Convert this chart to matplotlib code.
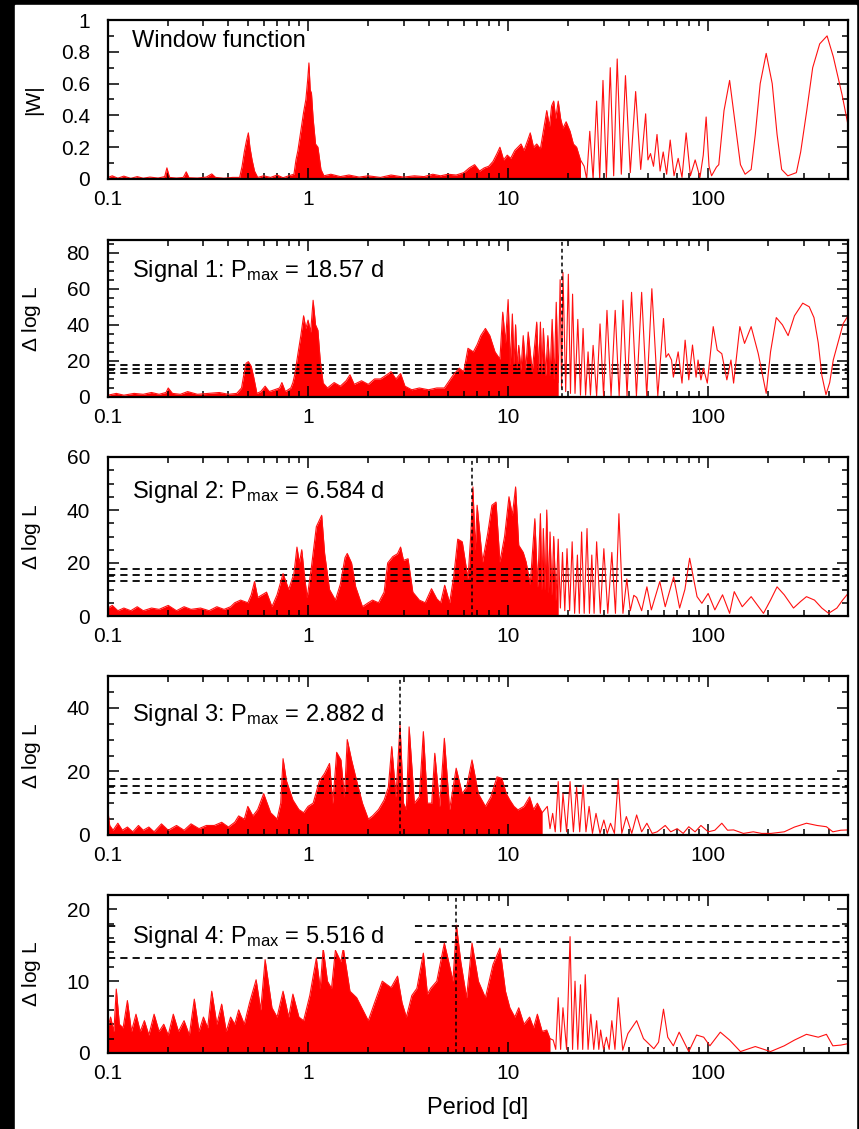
import matplotlib.pyplot as plt
import numpy as np
from matplotlib.ticker import LogLocator, NullFormatter, MultipleLocator, FormatStrFormatter
from matplotlib.transforms import blended_transform_factory

plt.rcParams['font.family'] = ['Liberation Sans', 'DejaVu Sans']
plt.rcParams['mathtext.default'] = 'regular'

# window function |W|
win_period = [0.100, 0.105, 0.112, 0.120, 0.130, 0.140, 0.150, 0.162, 0.178, 0.192,
              0.197, 0.203, 0.220, 0.238, 0.246, 0.254, 0.280, 0.310, 0.330, 0.345,
              0.380, 0.420, 0.455, 0.468, 0.480, 0.492, 0.503, 0.512, 0.525, 0.540,
              0.560, 0.600, 0.650, 0.700, 0.750, 0.800, 0.850, 0.870, 0.890, 0.920,
              0.950, 0.975, 0.995, 1.010, 1.025, 1.040, 1.060, 1.090, 1.120, 1.160,
              1.200, 1.300, 1.450, 1.600, 1.800, 2.000, 2.300, 2.600, 3.000, 3.400,
              3.800, 4.200, 4.600, 5.000, 5.500, 6.000, 6.400, 6.800, 7.200, 7.600,
              8.000, 8.400, 8.800, 9.100, 9.500, 9.900, 10.30, 10.80, 11.20, 11.60,
              12.00, 12.50, 12.90, 13.40, 13.90, 14.50, 15.00, 15.60, 16.10, 16.50,
              16.90, 17.30, 17.80, 18.30, 18.80, 19.50, 20.40, 21.20, 22.00, 23.00,
              24.00, 24.70, 25.60, 26.60, 27.70, 28.70, 29.80, 31.00, 32.40, 33.70,
              35.10, 36.80, 38.60, 40.80, 43.40, 46.00, 48.70, 50.00, 51.50, 53.30,
              55.50, 57.50, 59.60, 62.00, 64.60, 67.50, 70.80, 74.00, 77.60, 81.50,
              86.10, 91.00, 94.50, 97.70, 101.0, 104.0, 110.0, 113.0, 120.0, 128.0,
              136.0, 145.0, 153.0, 164.0, 172.0, 182.0, 195.0, 209.0, 221.0, 233.0,
              250.0, 276.0, 290.0, 311.0, 333.0, 361.0, 393.0, 422.0, 467.0, 500.0]
win_power = [0.010, 0.020, 0.005, 0.018, 0.004, 0.015, 0.005, 0.012, 0.006, 0.015,
             0.070, 0.010, 0.006, 0.010, 0.045, 0.008, 0.006, 0.012, 0.032, 0.010,
             0.005, 0.010, 0.010, 0.080, 0.170, 0.240, 0.290, 0.200, 0.120, 0.050,
             0.010, 0.020, 0.010, 0.025, 0.008, 0.020, 0.030, 0.120, 0.180, 0.300,
             0.420, 0.500, 0.620, 0.730, 0.560, 0.540, 0.380, 0.220, 0.200, 0.060,
             0.020, 0.030, 0.015, 0.025, 0.012, 0.020, 0.010, 0.025, 0.012, 0.020,
             0.015, 0.030, 0.020, 0.030, 0.025, 0.040, 0.070, 0.090, 0.050, 0.070,
             0.080, 0.110, 0.160, 0.200, 0.120, 0.150, 0.130, 0.180, 0.200, 0.220,
             0.180, 0.240, 0.290, 0.200, 0.220, 0.190, 0.300, 0.430, 0.330, 0.460,
             0.490, 0.380, 0.490, 0.380, 0.320, 0.360, 0.300, 0.220, 0.200, 0.120,
             0.080, 0.000, 0.300, 0.000, 0.490, 0.000, 0.620, 0.010, 0.700, 0.020,
             0.755, 0.030, 0.650, 0.040, 0.550, 0.060, 0.410, 0.120, 0.160, 0.080,
             0.280, 0.050, 0.170, 0.030, 0.245, 0.020, 0.130, 0.010, 0.290, 0.020,
             0.120, 0.010, 0.150, 0.390, 0.080, 0.020, 0.075, 0.090, 0.430, 0.620,
             0.360, 0.090, 0.030, 0.060, 0.280, 0.600, 0.790, 0.600, 0.280, 0.060,
             0.020, 0.040, 0.170, 0.430, 0.700, 0.850, 0.900, 0.770, 0.530, 0.340]

# signal 1 periodogram (delta log L)
s1_period = [0.100, 0.110, 0.120, 0.135, 0.150, 0.165, 0.180, 0.195, 0.200, 0.210,
             0.230, 0.250, 0.280, 0.320, 0.360, 0.400, 0.440, 0.465, 0.475, 0.490,
             0.503, 0.520, 0.535, 0.555, 0.580, 0.610, 0.640, 0.680, 0.720, 0.740,
             0.770, 0.820, 0.840, 0.860, 0.890, 0.920, 0.950, 0.975, 1.000, 1.030,
             1.060, 1.090, 1.120, 1.150, 1.190, 1.250, 1.350, 1.450, 1.550, 1.620,
             1.700, 1.850, 2.000, 2.150, 2.300, 2.450, 2.600, 2.750, 2.900, 3.050,
             3.300, 3.600, 4.000, 4.400, 4.800, 5.300, 5.700, 6.000, 6.300, 6.700,
             7.000, 7.300, 7.700, 8.100, 8.600, 9.100, 9.400, 9.700, 10.00, 10.25,
             10.50, 10.70, 10.90, 11.10, 11.30, 11.60, 11.90, 12.25, 12.60, 13.20,
             13.90, 14.20, 14.50, 14.75, 15.00, 15.40, 15.80, 16.20, 16.60, 17.00,
             17.40, 17.80, 18.20, 18.50, 18.80, 19.40, 20.00, 20.50, 21.00, 21.60,
             22.30, 23.00, 23.70, 24.40, 25.10, 25.80, 26.60, 27.70, 28.80, 30.00,
             31.20, 32.70, 34.30, 35.90, 37.50, 39.30, 41.40, 43.80, 46.50, 49.30,
             52.30, 56.00, 59.80, 61.50, 63.30, 65.60, 67.00, 70.80, 74.00, 76.70,
             80.00, 83.50, 87.00, 89.00, 92.00, 94.60, 99.00, 106.0, 111.0, 117.0,
             124.0, 130.0, 134.0, 144.0, 152.0, 164.0, 178.0, 195.0, 205.0, 219.0,
             235.0, 251.0, 270.0, 297.0, 320.0, 338.0, 355.0, 370.0, 388.0, 405.0,
             422.0, 445.0, 473.0, 500.0]
s1_dlogl = [1.0, 2.0, 1.0, 2.0, 1.5, 2.5, 1.5, 2.5, 5.0, 2.0,
            1.5, 3.0, 1.5, 2.0, 2.5, 1.5, 2.0, 5.0, 11.0, 18.7,
            19.6, 17.0, 11.0, 2.0, 3.0, 6.0, 3.0, 4.0, 5.0, 8.0,
            3.0, 5.0, 8.0, 13.0, 24.0, 34.0, 45.0, 38.0, 42.6, 36.0,
            53.6, 40.0, 37.0, 20.5, 7.7, 5.0, 8.0, 6.0, 9.0, 12.3,
            7.0, 9.0, 7.0, 10.0, 10.0, 12.0, 14.0, 10.0, 13.0, 6.0,
            4.0, 5.0, 4.0, 5.0, 5.0, 12.0, 16.0, 14.0, 27.0, 25.0,
            29.0, 34.0, 38.0, 34.0, 25.0, 21.0, 47.0, 30.0, 54.0, 18.0,
            46.0, 18.0, 40.0, 16.0, 28.6, 15.0, 34.0, 15.0, 36.0, 14.0,
            41.5, 14.0, 41.5, 13.0, 38.0, 12.0, 34.0, 12.0, 43.0, 10.0,
            52.5, 8.0, 65.0, 5.0, 69.0, 3.0, 68.0, 2.0, 57.0, 2.0,
            43.0, 1.0, 38.0, 1.0, 25.0, 1.0, 28.6, 0.5, 40.5, 0.5,
            48.0, 0.5, 48.0, 0.5, 53.6, 0.5, 58.0, 0.5, 58.0, 0.5,
            60.0, 0.5, 43.5, 22.0, 24.0, 20.5, 11.0, 25.0, 7.7, 31.5,
            9.5, 28.8, 11.0, 20.5, 9.5, 16.0, 7.7, 39.0, 26.0, 24.0,
            9.5, 20.5, 7.7, 39.0, 29.7, 39.0, 24.0, 2.0, 25.0, 44.0,
            40.0, 34.0, 45.0, 52.0, 50.0, 44.0, 30.0, 12.0, 1.3, 8.0,
            20.5, 30.0, 40.7, 45.0]

# signal 2 periodogram
s2_period = [0.100, 0.105, 0.112, 0.120, 0.130, 0.140, 0.150, 0.165, 0.180, 0.200,
             0.220, 0.240, 0.260, 0.290, 0.320, 0.350, 0.380, 0.410, 0.430, 0.460,
             0.500, 0.520, 0.540, 0.560, 0.590, 0.620, 0.660, 0.700, 0.750, 0.800,
             0.850, 0.880, 0.905, 0.930, 0.960, 0.990, 1.040, 1.100, 1.170, 1.210,
             1.280, 1.370, 1.450, 1.530, 1.570, 1.650, 1.730, 1.870, 2.000, 2.100,
             2.250, 2.400, 2.500, 2.650, 2.800, 2.900, 3.000, 3.160, 3.340, 3.600,
             3.850, 4.140, 4.400, 4.600, 4.820, 5.100, 5.350, 5.600, 5.900, 6.300,
             6.500, 6.670, 6.850, 7.000, 7.450, 7.900, 8.300, 8.700, 9.100, 9.600,
             10.10, 10.50, 10.90, 11.30, 11.90, 12.30, 12.90, 13.60, 14.05, 14.50,
             14.75, 15.00, 15.30, 15.60, 15.90, 16.20, 16.55, 16.90, 17.35, 17.80,
             18.25, 18.70, 19.20, 19.70, 20.30, 20.90, 21.50, 22.20, 22.70, 23.30,
             24.00, 24.80, 25.50, 26.20, 26.90, 27.70, 28.90, 30.10, 31.50, 33.00,
             34.40, 35.80, 37.50, 39.20, 40.80, 42.50, 43.90, 46.50, 49.40, 52.00,
             57.30, 61.00, 67.20, 72.00, 76.50, 80.80, 88.00, 93.00, 100.0, 108.0,
             118.0, 128.0, 135.0, 148.0, 164.0, 189.0, 205.0, 221.0, 240.0, 267.0,
             290.0, 310.0, 340.0, 370.0, 400.0, 440.0, 470.0, 500.0]
s2_dlogl = [3.0, 4.0, 2.0, 3.0, 2.0, 3.5, 2.0, 3.0, 2.5, 4.0,
            2.0, 3.5, 2.5, 3.0, 2.0, 3.5, 2.5, 3.5, 5.0, 6.0,
            5.0, 8.0, 13.0, 7.0, 8.0, 9.0, 3.5, 8.0, 16.0, 10.0,
            16.0, 26.0, 20.0, 25.0, 15.0, 7.0, 18.6, 33.7, 38.0, 23.6,
            10.0, 6.0, 12.0, 22.0, 23.6, 20.0, 11.0, 3.5, 5.0, 6.0,
            5.0, 9.0, 20.0, 22.4, 23.5, 26.0, 21.0, 21.6, 9.0, 6.0,
            5.0, 10.3, 6.5, 5.0, 11.6, 5.0, 15.0, 29.0, 28.0, 14.0,
            30.0, 48.7, 25.0, 41.8, 20.4, 31.0, 41.8, 43.0, 20.4, 30.0,
            45.0, 38.0, 48.7, 26.7, 24.0, 20.4, 12.0, 36.7, 11.0, 38.6,
            10.0, 33.0, 10.0, 40.0, 9.0, 31.7, 8.0, 30.0, 6.0, 29.0,
            3.0, 24.0, 2.0, 25.4, 2.0, 28.0, 1.0, 23.0, 1.0, 31.7,
            1.0, 33.0, 1.0, 23.0, 1.0, 28.0, 1.0, 25.4, 1.0, 24.0,
            1.0, 38.6, 1.0, 14.0, 2.0, 7.8, 7.0, 2.0, 11.0, 2.3,
            13.0, 3.5, 14.8, 3.0, 10.0, 21.8, 7.3, 4.8, 8.5, 2.3,
            8.0, 1.0, 9.2, 3.5, 7.3, 1.0, 6.0, 11.0, 8.0, 3.0,
            5.5, 7.3, 6.0, 3.0, 1.0, 3.0, 6.0, 8.5]

# signal 3 periodogram
s3_period = [0.100, 0.102, 0.106, 0.112, 0.118, 0.125, 0.133, 0.142, 0.150, 0.160,
             0.170, 0.185, 0.200, 0.220, 0.240, 0.260, 0.285, 0.310, 0.340, 0.370,
             0.400, 0.430, 0.450, 0.480, 0.500, 0.530, 0.560, 0.600, 0.650, 0.700,
             0.730, 0.750, 0.780, 0.840, 0.900, 0.950, 1.000, 1.060, 1.140, 1.210,
             1.280, 1.330, 1.390, 1.460, 1.520, 1.570, 1.650, 1.750, 1.870, 2.000,
             2.100, 2.250, 2.400, 2.520, 2.620, 2.750, 2.882, 3.000, 3.100, 3.200,
             3.400, 3.600, 3.770, 3.950, 4.150, 4.300, 4.550, 4.800, 5.100, 5.500,
             5.900, 6.200, 6.600, 7.100, 7.700, 8.200, 8.800, 9.300, 9.800, 10.20,
             10.70, 11.20, 12.00, 12.80, 13.40, 14.00, 14.80, 15.70, 16.20, 16.70,
             17.20, 17.80, 18.30, 18.80, 19.60, 20.40, 21.20, 22.00, 22.80, 23.70,
             24.50, 25.40, 26.40, 27.50, 28.80, 30.10, 31.30, 32.50, 34.00, 35.50,
             37.00, 39.00, 41.50, 43.90, 46.50, 49.40, 52.50, 55.60, 61.00, 65.00,
             70.00, 75.00, 80.00, 86.00, 92.00, 100.0, 108.0, 117.0, 125.0, 134.0,
             150.0, 168.0, 185.0, 206.0, 240.0, 270.0, 310.0, 350.0, 390.0, 420.0,
             460.0, 500.0]
s3_dlogl = [7.3, 3.0, 1.5, 3.7, 1.5, 2.5, 1.0, 3.0, 1.5, 2.5,
            1.0, 3.5, 1.5, 3.0, 1.5, 3.5, 2.0, 3.0, 3.0, 4.0,
            2.5, 4.0, 6.0, 5.0, 9.0, 6.0, 8.0, 13.0, 7.0, 5.0,
            10.0, 24.0, 17.0, 11.0, 8.0, 7.0, 9.0, 10.0, 17.0, 19.4,
            22.5, 10.0, 26.0, 23.6, 12.0, 30.0, 23.6, 17.0, 10.0, 5.0,
            6.0, 8.0, 11.0, 15.0, 27.8, 12.0, 34.6, 10.0, 8.0, 34.0,
            10.0, 12.0, 32.5, 10.0, 10.0, 25.7, 9.0, 30.4, 8.0, 21.0,
            13.0, 15.0, 23.6, 13.0, 9.0, 12.0, 18.3, 17.8, 13.0, 11.0,
            9.0, 7.9, 9.0, 12.0, 8.0, 10.0, 7.0, 9.0, 2.0, 6.8,
            1.0, 16.8, 1.0, 13.0, 1.0, 16.8, 1.0, 15.0, 1.0, 15.7,
            1.0, 9.0, 0.5, 6.8, 0.5, 4.7, 0.5, 3.7, 0.5, 17.3,
            0.5, 5.8, 0.5, 6.3, 1.0, 3.7, 0.5, 1.0, 3.0, 1.0,
            2.0, 0.5, 2.6, 1.0, 3.0, 1.0, 1.5, 3.7, 1.5, 1.6,
            0.5, 1.0, 0.5, 0.5, 1.0, 2.5, 3.7, 3.0, 2.6, 1.0,
            1.5, 1.6]

# signal 4 periodogram
s4_period = [0.100, 0.103, 0.107, 0.110, 0.114, 0.119, 0.125, 0.131, 0.138, 0.145,
             0.152, 0.160, 0.170, 0.180, 0.190, 0.200, 0.212, 0.225, 0.240, 0.255,
             0.270, 0.285, 0.300, 0.315, 0.330, 0.350, 0.370, 0.390, 0.410, 0.430,
             0.450, 0.480, 0.510, 0.550, 0.580, 0.610, 0.660, 0.700, 0.750, 0.800,
             0.840, 0.900, 0.950, 1.020, 1.100, 1.150, 1.190, 1.250, 1.310, 1.370,
             1.460, 1.500, 1.620, 1.750, 1.880, 2.000, 2.150, 2.350, 2.600, 2.800,
             2.950, 3.100, 3.300, 3.500, 3.770, 3.950, 4.100, 4.400, 4.800, 5.000,
             5.300, 5.516, 5.800, 6.200, 6.600, 7.100, 7.700, 8.400, 9.100, 9.700,
             10.20, 10.80, 11.30, 12.00, 12.80, 13.40, 14.00, 14.80, 15.60, 16.20,
             16.80, 17.30, 17.80, 18.30, 18.80, 19.60, 20.40, 21.00, 21.60, 22.30,
             23.00, 23.60, 24.30, 25.10, 25.90, 26.80, 27.70, 28.40, 29.00, 30.00,
             31.00, 32.00, 33.00, 34.20, 35.50, 37.40, 39.70, 43.90, 47.50, 53.50,
             56.50, 59.80, 62.80, 67.00, 71.60, 80.00, 87.50, 95.00, 102.0, 115.0,
             128.0, 145.0, 172.0, 205.0, 240.0, 270.0, 310.0, 355.0, 390.0, 420.0,
             460.0, 500.0]
s4_dlogl = [3.6, 5.0, 3.0, 8.9, 4.0, 3.5, 7.3, 3.0, 5.4, 3.0,
            4.5, 2.5, 5.4, 3.0, 4.0, 2.5, 5.4, 3.0, 4.5, 2.5,
            7.5, 3.0, 5.0, 3.5, 8.6, 4.0, 6.8, 3.0, 5.0, 4.0,
            6.0, 4.0, 7.0, 10.2, 6.0, 13.0, 6.3, 5.0, 8.6, 5.0,
            8.2, 5.0, 4.5, 8.0, 13.2, 9.0, 14.6, 10.0, 9.0, 14.3,
            12.7, 14.6, 8.6, 7.7, 6.0, 4.5, 7.0, 10.0, 9.1, 10.7,
            7.0, 5.0, 8.0, 9.0, 13.9, 8.2, 9.0, 10.0, 15.3, 13.2,
            10.0, 17.8, 12.7, 7.7, 15.3, 10.0, 7.7, 12.3, 14.6, 8.6,
            6.3, 5.0, 6.3, 4.0, 5.0, 3.5, 5.4, 3.0, 3.2, 2.0,
            1.8, 0.5, 7.7, 0.5, 6.3, 0.5, 16.2, 0.5, 10.0, 0.5,
            9.5, 0.5, 10.9, 0.5, 5.4, 0.5, 4.5, 0.5, 3.2, 0.5,
            2.2, 0.5, 4.5, 0.5, 7.7, 0.4, 2.7, 4.5, 2.0, 0.6,
            1.5, 6.1, 2.2, 1.0, 2.9, 0.2, 2.5, 2.2, 1.0, 2.9,
            1.8, 0.2, 0.9, 0.2, 1.0, 1.8, 2.6, 2.2, 2.6, 1.0,
            1.1, 1.3]

thresholds = [13.2, 15.4, 17.7]
pmax = [None, 18.57, 6.584, 2.882, 5.516]
labels = ['Window function',
          'Signal 1: P$_{max}$ = 18.57 d',
          'Signal 2: P$_{max}$ = 6.584 d',
          'Signal 3: P$_{max}$ = 2.882 d',
          'Signal 4: P$_{max}$ = 5.516 d']

series = [(win_period, win_power), (s1_period, s1_dlogl), (s2_period, s2_dlogl),
          (s3_period, s3_dlogl), (s4_period, s4_dlogl)]
dense_cut = [23.5, 18.0, 18.0, 15.0, 16.5]
ylims = [1.0, 87, 60, 50, 22]
ymajor = [0.2, 20, 20, 20, 10]
yminor = [0.1, 5, 5, 5, 2]
text_y = [0.87, 0.80, 0.78, 0.755, 0.735]

fig = plt.figure(figsize=(8.59, 11.29), dpi=100, facecolor='black')
fig.patches.append(plt.Rectangle((15 / 859, 0), 841 / 859, 1124 / 1129,
                                 transform=fig.transFigure, color='white', zorder=-10))

tops = [20, 240, 457, 676, 895]
bots = [179, 397, 616, 835, 1053]

for i in range(5):
    ax = fig.add_axes([108 / 859, 1 - bots[i] / 1129, 740 / 859, (bots[i] - tops[i]) / 1129])
    per = np.array(series[i][0])
    val = np.array(series[i][1])
    ax.fill_between(per, 0, val, where=per <= dense_cut[i], color='#ff0000', lw=0)
    ax.plot(per, val, color='#ff1010', lw=0.8)

    if i > 0:
        for t in thresholds:
            ax.axhline(t, color='black', lw=1.3, ls=(0, (4, 2.8)), zorder=1)
        ax.axvline(pmax[i], color='black', lw=1.1, ls=(0, (2.5, 2)), zorder=5)
        ax.set_ylabel('$\\Delta$ log L', fontsize=15)
    else:
        ax.set_ylabel('|W|', fontsize=15)
    ax.yaxis.set_label_coords(-0.088, 0.5)

    if i == 4:
        # label box hides the upper threshold lines, as in the original
        trans = blended_transform_factory(ax.transAxes, ax.transData)
        ax.add_patch(plt.Rectangle((0.012, 14.4), 0.396, 7.0, transform=trans,
                                   color='white', lw=0, zorder=4))

    ax.text(0.033, text_y[i], labels[i], transform=ax.transAxes, fontsize=17,
            va='center', ha='left', zorder=6)

    ax.set_xscale('log')
    ax.set_xlim(0.1, 500)
    ax.set_ylim(0, ylims[i])
    ax.set_xticks([0.1, 1, 10, 100], ['0.1', '1', '10', '100'])
    ax.xaxis.set_minor_locator(LogLocator(base=10, subs=np.arange(2, 10)))
    ax.xaxis.set_minor_formatter(NullFormatter())
    ax.yaxis.set_major_locator(MultipleLocator(ymajor[i]))
    ax.yaxis.set_minor_locator(MultipleLocator(yminor[i]))
    ax.yaxis.set_major_formatter(FormatStrFormatter('%g'))
    ax.tick_params(which='both', direction='in', top=True, right=True, width=1.1, labelsize=15)
    ax.tick_params(which='major', length=8)
    ax.tick_params(which='minor', length=4)
    ax.tick_params(axis='x', pad=8)
    ax.tick_params(axis='y', pad=13)
    for s in ax.spines.values():
        s.set_linewidth(1.6)

fig.text(478 / 859, 1 - 1108 / 1129, 'Period [d]', fontsize=17, ha='center', va='center')

plt.savefig('out.png', dpi=100, facecolor=fig.get_facecolor())
